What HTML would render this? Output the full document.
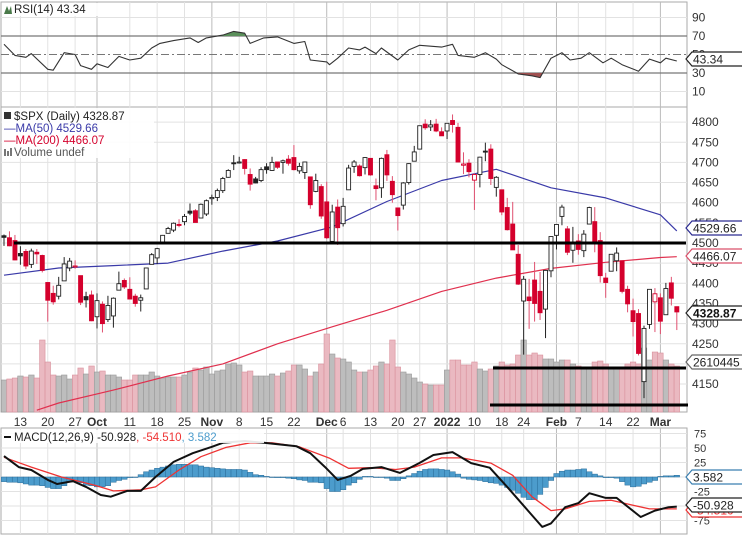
<!DOCTYPE html>
<html><head><meta charset="utf-8">
<style>
html,body{margin:0;padding:0;background:#fff;}
svg{display:block;font-family:"Liberation Sans",sans-serif;}
</style></head>
<body>
<svg id="chart" width="742" height="535" viewBox="0 0 742 535" xmlns="http://www.w3.org/2000/svg"></svg>
<script>
const opens=[4518,4513,4506,4474,4479,4447,4477,4469,4402,4375,4368,4406,4438,4442,4419,4367,4371,4317,4348,4310,4319,4383,4407,4385,4368,4358,4386,4447,4463,4498,4524,4532,4546,4553,4579,4580,4562,4572,4610,4613,4630,4663,4699,4701,4707,4670,4659,4655,4689,4680,4701,4700,4708,4712,4679,4675,4664,4628,4640,4602,4504,4589,4548,4632,4690,4691,4687,4710,4642,4637,4719,4653,4587,4594,4650,4703,4733,4795,4788,4795,4776,4778,4804,4787,4693,4698,4656,4670,4728,4733,4638,4632,4588,4547,4472,4356,4366,4408,4380,4336,4431,4519,4566,4535,4482,4505,4481,4547,4553,4506,4413,4430,4456,4456,4385,4332,4325,4156,4298,4354,4364,4322,4401,4342];
const highs=[4521,4529,4520,4492,4485,4486,4485,4471,4402,4394,4416,4465,4463,4457,4419,4379,4382,4375,4355,4369,4365,4429,4412,4415,4374,4372,4439,4475,4488,4520,4540,4551,4559,4572,4598,4584,4598,4608,4620,4635,4664,4683,4718,4714,4708,4685,4664,4688,4698,4714,4701,4707,4718,4743,4699,4702,4664,4672,4646,4652,4595,4608,4612,4694,4706,4695,4713,4710,4660,4712,4731,4666,4588,4651,4698,4741,4791,4807,4805,4808,4787,4797,4819,4798,4725,4708,4673,4714,4749,4745,4666,4632,4612,4602,4495,4418,4411,4453,4428,4432,4516,4546,4595,4542,4540,4522,4532,4590,4589,4527,4426,4472,4489,4456,4394,4362,4336,4295,4385,4388,4375,4401,4416,4342];
const lows=[4493,4492,4457,4446,4435,4438,4448,4427,4305,4347,4360,4406,4430,4436,4346,4340,4306,4288,4278,4304,4290,4383,4386,4360,4342,4330,4386,4447,4448,4497,4524,4527,4539,4544,4569,4551,4562,4567,4595,4604,4624,4662,4681,4697,4670,4630,4648,4651,4672,4679,4684,4672,4692,4680,4672,4659,4585,4626,4560,4510,4504,4495,4541,4632,4674,4665,4670,4667,4606,4612,4654,4600,4531,4583,4645,4703,4733,4781,4778,4775,4766,4758,4774,4700,4671,4663,4582,4638,4703,4644,4615,4569,4531,4483,4396,4223,4287,4305,4309,4264,4415,4484,4544,4470,4451,4471,4465,4547,4477,4402,4364,4430,4430,4375,4328,4268,4221,4115,4287,4279,4274,4322,4345,4284];
const closes=[4514,4493,4458,4468,4443,4480,4473,4432,4358,4354,4395,4448,4455,4443,4353,4359,4307,4357,4300,4345,4363,4399,4391,4361,4350,4364,4438,4471,4486,4519,4536,4549,4544,4566,4574,4551,4596,4605,4613,4630,4660,4680,4697,4701,4685,4646,4649,4682,4682,4700,4688,4704,4698,4682,4690,4701,4595,4655,4567,4513,4577,4538,4591,4686,4701,4667,4712,4669,4635,4710,4669,4620,4568,4649,4697,4726,4791,4786,4793,4778,4766,4797,4794,4701,4696,4677,4670,4713,4726,4660,4663,4577,4533,4483,4398,4410,4357,4350,4327,4432,4516,4546,4589,4477,4501,4484,4522,4588,4504,4419,4402,4472,4475,4380,4349,4305,4226,4288,4385,4374,4306,4387,4363,4329];
const volumes=[32,33,34,36,35,37,34,72,50,37,36,37,33,37,44,38,46,40,41,37,37,35,32,32,37,37,37,40,36,34,35,35,35,37,40,44,42,45,38,41,42,48,49,47,40,41,36,36,36,38,36,39,41,47,47,43,36,40,48,78,58,54,53,50,42,40,40,42,46,50,48,72,45,40,38,34,30,28,27,27,27,42,52,52,47,47,50,43,41,43,46,50,47,48,57,72,57,59,57,53,53,50,52,52,48,46,44,45,50,51,48,45,45,45,48,50,48,64,52,60,59,52,48,46];
const ma50Idx=[0,10,20,30,40,50,60,70,80,90,100,110,120,123];
const ma50Vals=[4420,4438,4444,4450,4480,4505,4540,4603,4655,4683,4637,4612,4570,4530];
const ma200Idx=[6,10,20,30,40,50,60,70,80,90,100,110,120,123];
const ma200Vals=[4085,4103,4135,4170,4200,4250,4292,4333,4380,4413,4437,4452,4464,4466];
const rsiIdx=[0,2,4,5,8,9,11,13,14,16,17,19,21,23,25,27,28.5,31,34,35.5,37,40,42,44,45,47.5,50,53,55,56,59,59.5,61,63,65,66,68,69,72,74,76,80,82,83,86,88,90,91,94,96.5,98,100,102,103.5,105.5,107,109.5,111,113,116,118,120,121,123];
const rsiVals=[61,49,47,51,34,33,52,50,38,34,40,36,48,44,46,57,62,65,68,63,68,71,75,73,62,68,69,62,64,44,42,39,46,57,55,58,51,57,44,55,60,58,61,49,47,52,45,39,29,27,25,46,52,44,46,52,41,46,39,32,45,41,46,43];
const macdIdx=[0,2.7,5,8,9.7,12.6,15,17.7,19.5,22.5,25,27.7,31,34.5,38,40,44,47.5,53.5,56,58.7,61,63.4,65.6,69,72.4,75.9,78.5,82,85.4,88.8,92,95.7,98.4,100,102.6,105,107,110,112,116.4,119,121.5,123];
const macdVals=[36,17,12,-5,-12,-7,-17,-31,-34,-24,-24,0,26,41,52,59,62,59,53,41,17,-5,2,14,17,7,24,38,43,24,16,-17,-57,-86,-80,-52,-45,-28,-36,-36,-69,-58,-52,-51];
const signalIdx=[0,5,10.5,16.5,20,25,27.7,32,36,40.6,45,49,54,59.6,63,67,71.6,75,80,83.7,89,93,96.5,100,102.6,107,111,114.6,118,123];
const signalVals=[34,17,0,-14,-24,-22,-17,12,35,51,59,59,52,32,15,16,13,17,33,33,24,3,-34,-58,-55,-42,-40,-48,-55,-55];
const histVals=[-8,-9,-9,-10,-12,-14,-14,-15,-18,-20,-20,-15,-9,-8,-10,-14,-15,-17,-17,-15,-9,-6,-4,-1,0,4,9,12,15,17,19,21,22,22,21,21,19,17,16,15,14,13,13,13,12,8,4,3,1,0,-1,-1,-2,-3,-5,-6,-9,-9,-10,-20,-25,-25,-22,-14,-10,-4,1,1,0,0,-2,-6,-6,-3,2,6,10,13,14,14,13,12,9,5,-2,-4,-5,-6,-8,-10,-11,-14,-18,-23,-28,-35,-39,-39,-30,-18,-6,6,10,12,12,13,14,9,5,2,-1,-1,-2,-8,-14,-17,-16,-12,-9,-6,1,2,2,3];
const priceTicks=[4150,4200,4250,4300,4350,4400,4450,4500,4550,4600,4650,4700,4750,4800];
const rsiTicks=[90,70,50,30,10];
const macdTicks=[75,50,25,-25,-50,-75];
const dateIdx=[3,8,13,17,23,28,33,38,43,48,53,59,62,67,72,76,81,86,91,95,101,105,110,115,120];
const dateLabels=['13','20','27','Oct','11','18','25','Nov','8','15','22','Dec','6','13','20','27','2022','10','18','24','Feb','7','14','22','Mar'];
const dateBold=[0,0,0,1,0,0,0,1,0,0,0,1,0,0,0,0,1,0,0,0,1,0,0,0,1];

const NS='http://www.w3.org/2000/svg';
const svg=document.getElementById('chart');
function mk(tag,attrs,parent){const e=document.createElementNS(NS,tag);for(const k in attrs)e.setAttribute(k,attrs[k]);(parent||svg).appendChild(e);return e;}
const PL=1,PR=687;
const X=i=>4+i*5.47;
const PY=p=>243-(p-4500)*0.403;
const RY=v=>36+(70-v)*0.925;
const MY=v=>477-v*0.58;
const VY=v=>412-v;

// panel backgrounds
const panels=[[2,107],[107,412],[428,534]];
panels.forEach((p,k)=>{const r=mk('rect',{x:PL,y:p[0],width:PR-PL,height:p[1]-p[0],fill:'#fff',stroke:'#aaa','stroke-width':1});

});

// vertical gridlines
dateIdx.forEach((d,k)=>{panels.forEach(p=>{const l=mk('line',{x1:X(d),x2:X(d),y1:p[0],y2:p[1],stroke:dateBold[k]?'#bbb':'#e2e2e2','stroke-width':1});

});});

// price horizontal grid + labels
priceTicks.forEach(t=>{const l=mk('line',{x1:PL,x2:PR,y1:PY(t),y2:PY(t),stroke:'#e2e2e2'});


const tx=mk('text',{x:692,y:PY(t)+4,'font-size':12,fill:'#333'});tx.textContent=t;

});

// RSI grid
rsiTicks.forEach(t=>{const strong=(t===70||t===30);const l=mk('line',{x1:PL,x2:PR,y1:RY(t),y2:RY(t),stroke:strong?'#777':(t===50?'#777':'#e2e2e2'),'stroke-width':strong?1.2:1,'stroke-dasharray':t===50?'8,3,2,3':'none'});


const tx=mk('text',{x:692,y:RY(t)+4,'font-size':12,fill:'#333'});tx.textContent=t;

});

// MACD grid
[75,50,25,0,-25,-50,-75].forEach(t=>{const l=mk('line',{x1:PL,x2:PR,y1:MY(t),y2:MY(t),stroke:'#e2e2e2'});

});
macdTicks.forEach(t=>{const tx=mk('text',{x:694,y:MY(t)+4,'font-size':11,fill:'#333'});tx.textContent=t;

});

// volume bars
volumes.forEach((v,i)=>{const down=i>0&&closes[i]<closes[i-1];
const r=mk('rect',{x:X(i)-2.7,y:VY(v),width:5.47,height:v,fill:down?'#eab9c1':'#bdbdbd',stroke:down?'#d9909c':'#999','stroke-width':0.6});

});

// MA lines
function poly(idx,vals,yf,color,name,w){const pts=idx.map((d,k)=>X(d).toFixed(1)+','+yf(vals[k]).toFixed(1)).join(' ');
const p=mk('polyline',{points:pts,fill:'none',stroke:color,'stroke-width':w||1.2,'stroke-linejoin':'round'});

return p;}
poly(ma200Idx,ma200Vals,PY,'#e0304e','ma200-line');
poly(ma50Idx,ma50Vals,PY,'#3a3aa8','ma50-line');

// candles
closes.forEach((c,i)=>{const o=opens[i],h=highs[i],l=lows[i];
const down=i>0&&c<closes[i-1];const col=down?'#d4002c':'#222';
const x=X(i);
const w=mk('line',{x1:x,x2:x,y1:PY(h),y2:PY(l),stroke:down?'#e05070':'#222','stroke-width':1});


const top=PY(Math.max(o,c)),bh=Math.max(1,Math.abs(PY(o)-PY(c)));
const filled=c<o;
const b=mk('rect',{x:x-2,y:top,width:4,height:bh,fill:filled?col:'#fff',stroke:col,'stroke-width':0.9});

});

// drawn horizontal lines
[[14,686,243],[493,686,368],[490,688,405]].forEach(s=>{const l=mk('line',{x1:s[0],x2:s[1],y1:s[2],y2:s[2],stroke:'#000','stroke-width':3});

});

// RSI fills
const defs=mk('defs',{});
const c1=mk('clipPath',{id:'above70'},defs);mk('rect',{x:0,y:0,width:742,height:RY(70)},c1);
const c2=mk('clipPath',{id:'below30'},defs);mk('rect',{x:0,y:RY(30),width:742,height:100},c2);
const rsiPts=rsiIdx.map((d,k)=>X(d).toFixed(1)+','+RY(rsiVals[k]).toFixed(1)).join(' ');
const fa=mk('polygon',{points:X(rsiIdx[0])+','+RY(70)+' '+rsiPts+' '+X(rsiIdx[rsiIdx.length-1])+','+RY(70),fill:'#5a8f5a','clip-path':'url(#above70)'});


const fb=mk('polygon',{points:X(rsiIdx[0])+','+RY(30)+' '+rsiPts+' '+X(rsiIdx[rsiIdx.length-1])+','+RY(30),fill:'#a05050','clip-path':'url(#below30)'});


poly(rsiIdx,rsiVals,RY,'#333','rsi-line',1.1);

// MACD histogram
histVals.forEach((v,i)=>{const y0=MY(0),y1=MY(v);
const r=mk('rect',{x:X(i)-2.7,y:Math.min(y0,y1),width:5.47,height:Math.max(0.5,Math.abs(y1-y0)),fill:'#4c9ccc',stroke:'#2a6d9a','stroke-width':0.5});

});
poly(signalIdx,signalVals,MY,'#ee3333','macd-signal-line',1.3);
poly(macdIdx,macdVals,MY,'#111','macd-line',2);

// date labels
dateIdx.forEach((d,k)=>{const t=mk('text',{x:X(d),y:426,'font-size':12,'text-anchor':'middle',fill:'#333','font-weight':dateBold[k]?'bold':'normal'});
t.textContent=dateLabels[k];

});

// value tags
function tag(y,text,stroke,color,bold,name){const g=mk('g',{});


const w=bold?54:52;
mk('path',{d:`M686,${y} L692,${y-7} L${692+w},${y-7} L${692+w},${y+7} L692,${y+7} Z`,fill:'#fff',stroke:stroke,'stroke-width':1.2},g);
const t=mk('text',{x:693,y:y+4.5,'font-size':bold?12:12,'font-weight':bold?'bold':'normal',fill:color},g);t.textContent=text;}
tag(228,'4529.66','#2a2a90','#222',false,'ma50-value-tag');
tag(256,'4466.07','#d9506a','#222',false,'ma200-value-tag');
tag(362,'2610445','#666','#222',false,'volume-value-tag');
tag(313,'4328.87','#222','#111',true,'price-value-tag');
tag(59,'43.34','#222','#222',false,'rsi-value-tag');
tag(510,'-54.510','#e33','#e33',false,'signal-value-tag');
tag(477,'3.582','#3a7fb0','#222',false,'histogram-value-tag');
tag(505,'-50.928','#222','#222',false,'macd-value-tag');

// legends
function legendText(x,y,parts,name){const t=mk('text',{x:x,y:y,'font-size':11.5});


parts.forEach(p=>{const s=mk('tspan',{fill:p[1]},t);s.textContent=p[0];});return t;}
const lb=mk('rect',{x:2,y:108,width:152,height:50,fill:'#fff',opacity:0.9});


legendText(14,120,[['$SPX (Daily) 4328.87','#222']],'legend-spx');
mk('rect',{x:4,y:112,width:7,height:7,fill:'#333'});
legendText(4,132,[['\u2014MA(50) 4529.66','#3a3aa8']],'legend-ma50');
legendText(4,144,[['\u2014MA(200) 4466.07','#d4002c']],'legend-ma200');
legendText(14,156,[['Volume undef','#555']],'legend-volume');
mk('rect',{x:4,y:149,width:2,height:7,fill:'#777'});mk('rect',{x:7,y:151,width:2,height:5,fill:'#777'});mk('rect',{x:10,y:148,width:2,height:8,fill:'#777'});
const rl=mk('rect',{x:2,y:3,width:100,height:13,fill:'#fff',opacity:0.9});


mk('path',{d:'M4,14 L7,6 L9,11 L11,6 L12,14 Z',fill:'#4a7a4a'});
legendText(14,13,[['RSI(14) 43.34','#222']],'legend-rsi');
const ml=mk('rect',{x:2,y:430,width:262,height:13,fill:'#fff',opacity:0.9});


mk('line',{x1:4,x2:11,y1:437,y2:437,stroke:'#111','stroke-width':2});
legendText(14,441,[['MACD(12,26,9) -50.928','#222'],[', -54.510','#e33'],[', 3.582','#4c9ccc']],'legend-macd');
</script>
</body></html>
